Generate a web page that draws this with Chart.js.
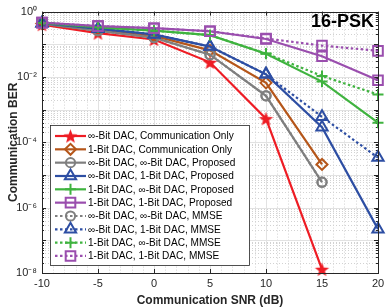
<!DOCTYPE html>
<html>
<head>
<meta charset="utf-8">
<script src="https://cdn.jsdelivr.net/npm/chart.js@4.4.1/dist/chart.umd.min.js"></script>
<style>
  html, body { margin: 0; padding: 0; background: #fff; }
  canvas { display: block; }
</style>
</head>
<body>
<canvas id="berChart" width="390" height="308"></canvas>
<script>
// SNR axis and tick values
const snr = [-10, -5, 0, 5, 10, 15, 20];
const xTicks = [-10, -5, 0, 5, 10, 15, 20];
const yTicks = [1e-8, 1e-6, 1e-4, 1e-2, 1];
const yTickLabels = ['10\u207B\u2078', '10\u207B\u2076', '10\u207B\u2074', '10\u207B\u00B2', '10\u2070'];

// BER values (null = not plotted)
const infCommOnly   = [0.40, 0.22, 0.14, 0.028, 5.3e-4, 1.3e-8, null];
const oneCommOnly   = [0.43, 0.27, 0.18, 0.065, 6.6e-3, 2.1e-5, null];
const infInfProp    = [0.43, 0.26, 0.16, 0.048, 2.65e-3, 6.0e-6, null];
const infOneProp    = [0.44, 0.30, 0.20, 0.085, 0.012, 2.9e-4, 2.2e-7];
const oneInfProp    = [0.45, 0.33, 0.26, 0.19, 0.051, 7.2e-3, 4.0e-4];
const oneOneProp    = [0.46, 0.36, 0.31, 0.25, 0.145, 0.043, 7.9e-3];
const infInfMmse    = [0.43, 0.26, 0.16, 0.048, 2.65e-3, 6.0e-6, null];
const infOneMmse    = [0.44, 0.30, 0.20, 0.085, 0.012, 6.0e-4, 3.4e-5];
const oneInfMmse    = [0.45, 0.33, 0.26, 0.19, 0.052, 0.0107, 2.9e-3];
const oneOneMmse    = [0.46, 0.36, 0.31, 0.25, 0.15, 0.091, 0.063];

const labels = [
  '\u221E-Bit DAC, Communication Only',
  '1-Bit DAC, Communication Only',
  '\u221E-Bit DAC, \u221E-Bit DAC, Proposed',
  '\u221E-Bit DAC, 1-Bit DAC, Proposed',
  '1-Bit DAC, \u221E-Bit DAC, Proposed',
  '1-Bit DAC, 1-Bit DAC, Proposed',
  '\u221E-Bit DAC, \u221E-Bit DAC, MMSE',
  '\u221E-Bit DAC, 1-Bit DAC, MMSE',
  '1-Bit DAC, \u221E-Bit DAC, MMSE',
  '1-Bit DAC, 1-Bit DAC, MMSE'
];

const RED = '#ee1c24', BROWN = '#b5561a', GRAY = '#7f7f7f',
      BLUE = '#2d4ea3', GREEN = '#3fb33f', PURPLE = '#9a4eae';
const DOT = [2.5, 2.5];

// filled five point star (MATLAB pentagram)
function makeStar(color, rOut) {
  const c = document.createElement('canvas');
  const s = Math.ceil(rOut * 2 + 2);
  c.width = s; c.height = s;
  const g = c.getContext('2d');
  g.translate(s / 2, s / 2 + 0.8);
  g.beginPath();
  for (let i = 0; i < 10; i++) {
    const r = i % 2 ? rOut * 0.42 : rOut;
    const a = -Math.PI / 2 + i * Math.PI / 5;
    g.lineTo(r * Math.cos(a), r * Math.sin(a));
  }
  g.closePath();
  g.fillStyle = color;
  g.fill();
  return c;
}
const starImg = makeStar(RED, 7.5);

function series(i, data, color, style, radius, dashed) {
  return {
    label: labels[i], data: data,
    borderColor: color, pointBorderColor: color,
    pointBackgroundColor: 'rgba(0,0,0,0)',
    borderWidth: 2.2, pointBorderWidth: 2,
    borderDash: dashed ? DOT : [],
    pointStyle: style, pointRadius: radius,
    clip: false, spanGaps: false, tension: 0,
    order: 20 - i
  };
}

const datasets = [
  series(0, infCommOnly, RED, starImg, 7, false),
  series(1, oneCommOnly, BROWN, 'rectRot', 5.5, false),
  series(2, infInfProp, GRAY, 'circle', 4.6, false),
  series(3, infOneProp, BLUE, 'triangle', 6.5, false),
  series(4, oneInfProp, GREEN, 'cross', 5.5, false),
  series(5, oneOneProp, PURPLE, 'rect', 6.8, false),
  series(6, infInfMmse, GRAY, 'circle', 4.6, true),
  series(7, infOneMmse, BLUE, 'triangle', 6.5, true),
  series(8, oneInfMmse, GREEN, 'cross', 5.5, true),
  series(9, oneOneMmse, PURPLE, 'rect', 6.8, true)
];

const AXIS = '#262626';
const FONT = '"Liberation Sans", Arial, Helvetica, sans-serif';

// MATLAB style grid, box, inner ticks, legend and annotation
const matlabAxes = {
  id: 'matlabAxes',
  beforeDatasetsDraw(chart) {
    const { ctx, chartArea: a, scales: { x, y } } = chart;
    ctx.save();
    ctx.lineWidth = 1;
    // minor grid, dotted
    ctx.strokeStyle = '#d2d2d2';
    ctx.setLineDash([1, 2]);
    ctx.beginPath();
    for (let v = -10; v <= 20; v++) {
      if (v % 5 === 0) continue;
      const px = Math.round(x.getPixelForValue(v)) + 0.5;
      ctx.moveTo(px, a.top); ctx.lineTo(px, a.bottom);
    }
    for (let e = -8; e < 0; e++) {
      for (let m = 2; m <= 9; m++) {
        const py = Math.round(y.getPixelForValue(m * Math.pow(10, e))) + 0.5;
        ctx.moveTo(a.left, py); ctx.lineTo(a.right, py);
      }
    }
    ctx.stroke();
    // major grid
    ctx.setLineDash([]);
    ctx.strokeStyle = '#e2e2e2';
    ctx.beginPath();
    for (const v of xTicks.slice(1, -1)) {
      const px = Math.round(x.getPixelForValue(v)) + 0.5;
      ctx.moveTo(px, a.top); ctx.lineTo(px, a.bottom);
    }
    for (let e = -7; e < 0; e++) {
      const py = Math.round(y.getPixelForValue(Math.pow(10, e))) + 0.5;
      ctx.moveTo(a.left, py); ctx.lineTo(a.right, py);
    }
    ctx.stroke();
    // inner ticks
    ctx.strokeStyle = AXIS;
    ctx.beginPath();
    for (const v of xTicks) {
      const px = Math.round(x.getPixelForValue(v)) + 0.5;
      ctx.moveTo(px, a.bottom); ctx.lineTo(px, a.bottom - 4);
      ctx.moveTo(px, a.top); ctx.lineTo(px, a.top + 4);
    }
    for (let e = -8; e <= 0; e++) {
      const py = Math.round(y.getPixelForValue(Math.pow(10, e))) + 0.5;
      ctx.moveTo(a.left, py); ctx.lineTo(a.left + 4, py);
      ctx.moveTo(a.right, py); ctx.lineTo(a.right - 4, py);
      if (e === 0) break;
      for (let m = 2; m <= 9; m++) {
        const pm = Math.round(y.getPixelForValue(m * Math.pow(10, e))) + 0.5;
        ctx.moveTo(a.left, pm); ctx.lineTo(a.left + 2, pm);
        ctx.moveTo(a.right, pm); ctx.lineTo(a.right - 2, pm);
      }
    }
    ctx.stroke();
    ctx.restore();
  },
  afterDatasetsDraw(chart) {
    const { ctx, chartArea: a } = chart;
    ctx.save();
    // axes box
    ctx.strokeStyle = AXIS;
    ctx.lineWidth = 1;
    ctx.strokeRect(Math.round(a.left) + 0.5, Math.round(a.top) + 0.5,
                   Math.round(a.right - a.left), Math.round(a.bottom - a.top));

    // 16-PSK label
    ctx.fillStyle = '#000';
    ctx.font = 'bold 18px ' + FONT;
    ctx.textAlign = 'right';
    ctx.textBaseline = 'alphabetic';
    ctx.fillText('16-PSK', a.right - 4, 27);

    // legend box
    const lx = 50.5, ly = 125.5, lw = 199, lh = 140;
    ctx.fillStyle = '#fff';
    ctx.fillRect(lx, ly, lw, lh);
    ctx.strokeStyle = AXIS;
    ctx.lineWidth = 0.8;
    ctx.strokeRect(lx, ly, lw, lh);
    ctx.font = '10.1px ' + FONT;
    ctx.textAlign = 'left';
    ctx.textBaseline = 'middle';
    chart.data.datasets.forEach((ds, i) => {
      const cy = 136 + i * 13.33;
      ctx.strokeStyle = ds.borderColor;
      ctx.lineWidth = ds.borderWidth;
      ctx.setLineDash(ds.borderDash);
      ctx.beginPath();
      ctx.moveTo(55, cy); ctx.lineTo(86, cy);
      ctx.stroke();
      ctx.setLineDash([]);
      ctx.lineWidth = ds.pointBorderWidth;
      ctx.fillStyle = 'rgba(0,0,0,0)';
      Chart.helpers.drawPoint(ctx, {
        pointStyle: ds.pointStyle, radius: ds.pointRadius,
        rotation: 0, borderWidth: ds.pointBorderWidth
      }, 70.5, cy);
      ctx.fillStyle = '#000';
      ctx.fillText(ds.label, 88, cy + 0.5);
    });
    ctx.restore();
  }
};

new Chart(document.getElementById('berChart'), {
  type: 'line',
  data: { labels: snr, datasets: datasets.map(d => ({ ...d, data: d.data.map((v, k) => ({ x: snr[k], y: v })) })) },
  options: {
    responsive: false,
    animation: false,
    events: [],
    layout: { padding: { top: 6, right: 12, left: 0, bottom: 0 } },
    plugins: { legend: { display: false }, tooltip: { enabled: false } },
    scales: {
      x: {
        type: 'linear', min: -10, max: 20,
        afterBuildTicks: s => { s.ticks = xTicks.map(v => ({ value: v })); },
        afterFit: s => { s.height = 35; },
        grid: { display: false, drawTicks: false },
        border: { display: false },
        ticks: { color: AXIS, font: { family: FONT, size: 11 }, padding: 4, maxRotation: 0, autoSkip: false },
        title: { display: true, text: 'Communication SNR (dB)', color: AXIS,
                 font: { family: FONT, size: 12, weight: 'bold' }, padding: { top: 0, bottom: 0.5 } }
      },
      y: {
        type: 'logarithmic', min: 1e-8, max: 1,
        afterBuildTicks: s => { s.ticks = yTicks.map(v => ({ value: v })); },
        afterFit: s => { s.width = 42; },
        grid: { display: false, drawTicks: false },
        border: { display: false },
        ticks: { color: AXIS, font: { family: FONT, size: 11 }, padding: 5, autoSkip: false,
                 callback: v => { const k = yTicks.indexOf(v); return k >= 0 ? yTickLabels[k] : ''; } },
        title: { display: true, text: 'Communication BER', color: AXIS,
                 font: { family: FONT, size: 12, weight: 'bold' }, padding: { top: 6, bottom: 0 } }
      }
    }
  },
  plugins: [matlabAxes]
});
</script>
</body>
</html>
